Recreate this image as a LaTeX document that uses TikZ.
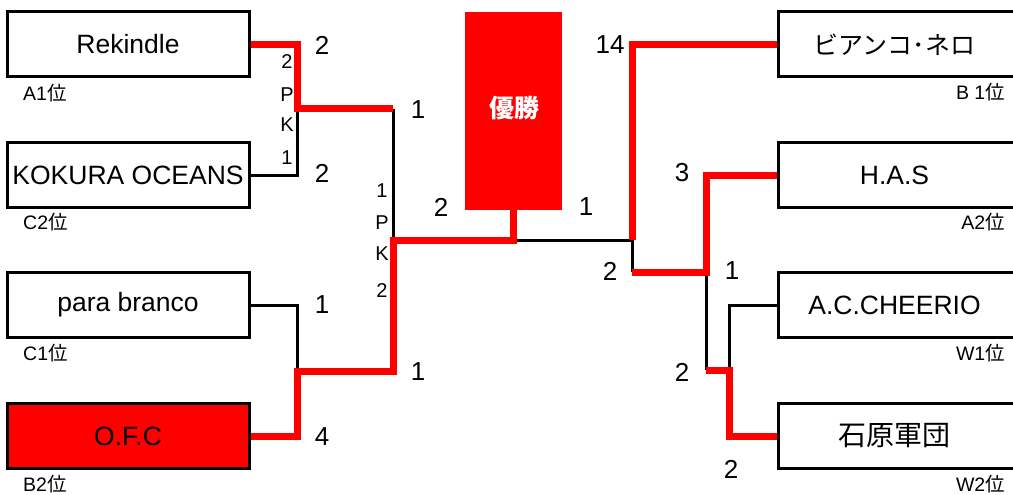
\documentclass[tikz,border=0pt]{standalone}
\usepackage{fontspec}
\setmainfont{Liberation Sans}
\newfontfamily\cjk{Noto Sans CJK JP}
\definecolor{winred}{HTML}{FF0000}
\begin{document}
\begin{tikzpicture}[x=1pt,y=-1pt,
  team/.style={draw=black,line width=3pt,minimum height=65pt,inner sep=0pt,font=\fontsize{26.5}{30}\selectfont},
  lteam/.style={team,minimum width=242pt},
  rteam/.style={team,minimum width=240pt},
  rank/.style={inner sep=0pt,font=\fontsize{19.5}{22}\selectfont},
  score/.style={inner sep=0pt,font=\fontsize{26}{30}\selectfont},
  pk/.style={inner sep=0pt,font=\fontsize{20}{22}\selectfont},
  lose/.style={draw=black,line width=3pt,line join=miter},
  win/.style={draw=winred,line width=7pt,line join=miter}]
\useasboundingbox (0,0) rectangle (1013,495);
% left teams
\node[lteam] (rek) at (128,44.5) {Rekindle};
\node[lteam] (kok) at (128,175) {KOKURA OCEANS};
\node[lteam] (par) at (128,305) {para branco};
\node[lteam,fill=winred] (ofc) at (128,436) {O.F.C};
% right teams
\node[rteam,anchor=west] (bia) at (777,44.5) {\hspace*{-8pt}\cjk\fontsize{25}{30}\selectfont ビアンコ･ネロ};
\node[rteam,anchor=west] (has) at (777,175) {\hspace*{-8pt}H.A.S};
\node[rteam,anchor=west] (ach) at (777,305) {\hspace*{-8pt}A.C.CHEERIO};
\node[rteam,anchor=west] (ish) at (777,436) {\hspace*{-8pt}\cjk\fontsize{28}{30}\selectfont 石原軍団};
% trophy
\node[fill=winred,minimum width=97pt,minimum height=198pt,inner sep=0pt] (cup) at (513.5,111) {};
\node[inner sep=0pt,text=white,font=\cjk\bfseries\fontsize{25}{27}\selectfont] (cupt) at (514,108) {優勝};
% ranks
\node[rank,anchor=west] (r1) at (23,93) {A1{\cjk 位}};
\node[rank,anchor=west] (r2) at (23,222) {C2{\cjk 位}};
\node[rank,anchor=west] (r3) at (23,353) {C1{\cjk 位}};
\node[rank,anchor=west] (r4) at (23,484) {B2{\cjk 位}};
\node[rank,anchor=east] (r5) at (1005,92) {B 1{\cjk 位}};
\node[rank,anchor=east] (r6) at (1005,222) {A2{\cjk 位}};
\node[rank,anchor=east] (r7) at (1005,353) {W1{\cjk 位}};
\node[rank,anchor=east] (r8) at (1005,484) {W2{\cjk 位}};
% junction coordinates
\coordinate (a1) at (297,44.5);
\coordinate (a2) at (297,109);
\coordinate (a3) at (393,109);
\coordinate (a4) at (297,175);
\coordinate (b1) at (297,305);
\coordinate (b2) at (297,371);
\coordinate (b3) at (393,371);
\coordinate (b4) at (297,436);
\coordinate (c1) at (393,240);
\coordinate (c2) at (513.5,240);
\coordinate (d1) at (632,44.5);
\coordinate (d2) at (632,240);
\coordinate (d3) at (632,272);
\coordinate (e1) at (706,175);
\coordinate (e2) at (706,272);
\coordinate (e3) at (706,370);
\coordinate (f1) at (729,305);
\coordinate (f2) at (729,370);
\coordinate (f3) at (729,436);
% losing lines
\draw[lose] (kok.east) -- (a4) -- (a2);
\draw[lose] (a3) -- (c1);
\draw[lose] (par.east) -- (b1) -- (b2);
\draw[lose] (c2) -- (d2) -- (d3);
\draw[lose] (e2) -- (e3);
\draw[lose] (ach.west) -- (f1) -- (f2);
% winning lines
\draw[win] (rek.east) -- (a1) -- (a2) -- (a3);
\draw[win] (ofc.east) -- (b4) -- (b2) -- (b3) -- (c1) -- (c2) -- (cup.south);
\draw[win] (bia.west) -- (d1) -- (d2);
\draw[win] (d3) -- (e2) -- (e1) -- (has.west);
\draw[win] (e3) -- (f2) -- (f3) -- (ish.west);
% scores left
\node[score] (s1) at (322,45) {2};
\node[score] (s2) at (322,173) {2};
\node[score] (s3) at (418,110) {1};
\node[score] (s4) at (441,207) {2};
\node[score] (s5) at (322,305) {1};
\node[score] (s6) at (418,372) {1};
\node[score] (s7) at (322,437) {4};
% scores right
\node[score] (t1) at (610,45) {14};
\node[score] (t2) at (586,207) {1};
\node[score] (t3) at (682,173) {3};
\node[score] (t4) at (610,271) {2};
\node[score] (t5) at (732,271) {1};
\node[score] (t6) at (682,372) {2};
\node[score] (t7) at (731,469) {2};
% PK labels
\node[pk] (p1) at (287,62) {2};
\node[pk] (p2) at (287,95) {P};
\node[pk] (p3) at (287,125) {K};
\node[pk] (p4) at (287,158) {1};
\node[pk] (q1) at (382,191) {1};
\node[pk] (q2) at (382,223) {P};
\node[pk] (q3) at (382,254) {K};
\node[pk] (q4) at (382,291) {2};
\end{tikzpicture}
\end{document}
